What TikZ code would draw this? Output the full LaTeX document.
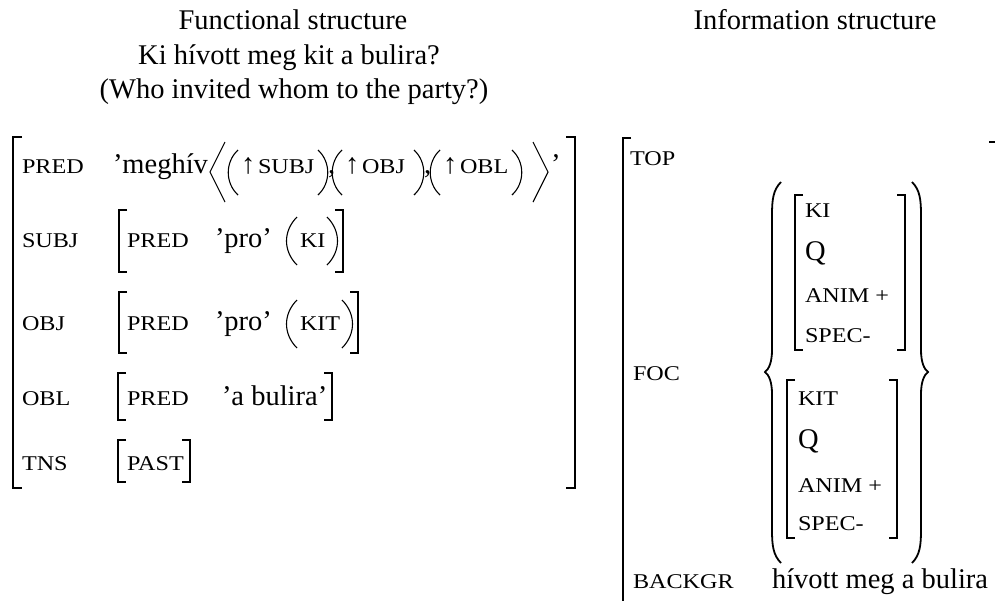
\documentclass[tikz,border=0pt]{standalone}
\usepackage{fontspec}
\setmainfont{Liberation Serif}
\newfontfamily\scfont[FakeStretch=1.15]{Liberation Serif}
\newcommand\rmfs{\fontsize{28.5}{34}\selectfont}
\newcommand\scfs{\scfont\fontsize{21}{24}\selectfont}
\tikzset{
  txt/.style={anchor=base west, inner sep=0pt, outer sep=0pt, font=\rmfs},
  sc/.style={anchor=base west, inner sep=0pt, outer sep=0pt, font=\scfs},
  ttl/.style={anchor=base, inner sep=0pt, outer sep=0pt, font=\rmfs},
  brk/.style={line width=1.6pt},
  dlm/.style={line width=1.1pt},
  brace/.style={line width=1.8pt},
}
\begin{document}
\begin{tikzpicture}[x=1pt,y=-1pt]
\useasboundingbox (0,0) rectangle (995,600);
% titles
\node[ttl] (t1) at (293,29) {Functional structure};
\node[ttl] (t2) at (815,29) {Information structure};
\node[ttl] (t3) at (289,64) {Ki hívott meg kit a bulira?};
\node[ttl] (t4) at (294,98) {(Who invited whom to the party?)};
% big f-structure bracket
\draw[brk] (22,137) -- (13,137) -- (13,488) -- (22,488);
\draw[brk] (566,137) -- (575,137) -- (575,488) -- (566,488);
% PRED row
\node[sc] (l1) at (22,173) {PRED};
\node[txt] (v1) at (113,173) {’meghív};
\draw[dlm] (225,142) -- (210,172) -- (225,202);
\draw[dlm] (238,150) .. controls (225,162) and (225,183) .. (238,195);
\node[txt] (u1) at (241,173) {↑};
\node[sc] (a1) at (258,173) {SUBJ};
\draw[dlm] (318,150) .. controls (331,162) and (331,183) .. (318,195);
\node[txt] (c1) at (328,173) {,};
\draw[dlm] (342,150) .. controls (329,162) and (329,183) .. (342,195);
\node[txt] (u2) at (345,173) {↑};
\node[sc] (a2) at (362,173) {OBJ};
\draw[dlm] (414,150) .. controls (427,162) and (427,183) .. (414,195);
\node[txt] (c2) at (424,173) {,};
\draw[dlm] (440,150) .. controls (427,162) and (427,183) .. (440,195);
\node[txt] (u3) at (443,173) {↑};
\node[sc] (a3) at (460,173) {OBL};
\draw[dlm] (512,150) .. controls (525,162) and (525,183) .. (512,195);
\draw[dlm] (533,142) -- (548,172) -- (533,202);
\node[txt] (q1) at (551,173) {’};
% SUBJ row
\node[sc] (l2) at (22,247) {SUBJ};
\draw[brk] (127,210) -- (119,210) -- (119,272) -- (127,272);
\node[sc] (p2) at (127,247) {PRED};
\node[txt] (v2) at (215,247) {’pro’};
\draw[dlm] (297,217) .. controls (283,231) and (283,251) .. (297,265);
\node[sc] (k2) at (300,247) {KI};
\draw[dlm] (327,217) .. controls (341,231) and (341,251) .. (327,265);
\draw[brk] (335,210) -- (343,210) -- (343,272) -- (335,272);
% OBJ row
\node[sc] (l3) at (22,330) {OBJ};
\draw[brk] (127,292) -- (119,292) -- (119,353) -- (127,353);
\node[sc] (p3) at (127,330) {PRED};
\node[txt] (v3) at (215,330) {’pro’};
\draw[dlm] (297,300) .. controls (283,314) and (283,334) .. (297,348);
\node[sc] (k3) at (300,330) {KIT};
\draw[dlm] (342,300) .. controls (356,314) and (356,334) .. (342,348);
\draw[brk] (350,292) -- (358,292) -- (358,353) -- (350,353);
% OBL row
\node[sc] (l4) at (22,405) {OBL};
\draw[brk] (126,373) -- (118,373) -- (118,420) -- (126,420);
\node[sc] (p4) at (127,405) {PRED};
\node[txt] (v4) at (222,405) {’a bulira’};
\draw[brk] (324,373) -- (332,373) -- (332,420) -- (324,420);
% TNS row
\node[sc] (l5) at (22,470) {TNS};
\draw[brk] (126,440) -- (118,440) -- (118,482) -- (126,482);
\node[sc] (p5) at (127,470) {PAST};
\draw[brk] (182,440) -- (190,440) -- (190,482) -- (182,482);
% information structure
\draw[brk] (631,138) -- (623,138) -- (623,605);
\draw[brk] (989,142) -- (998,142) -- (998,605);
\node[sc] (top) at (630,165) {TOP};
\node[sc] (foc) at (633,380) {FOC};
\node[sc] (bg) at (633,588) {BACKGR};
\node[txt] (bgv) at (772,588) {hívott meg a bulira};
% braces
\draw[brace] (781,182) .. controls (773,190) and (772,200) .. (772,215) -- (772,350)
  .. controls (772,362) and (769,369) .. (765,372) .. controls (769,375) and (772,382) .. (772,394)
  -- (772,530) .. controls (772,545) and (773,555) .. (781,563);
\draw[brace] (912,182) .. controls (920,190) and (921,200) .. (921,215) -- (921,350)
  .. controls (921,362) and (924,369) .. (928,372) .. controls (924,375) and (921,382) .. (921,394)
  -- (921,530) .. controls (921,545) and (920,555) .. (912,563);
% first inner matrix
\draw[brk] (803,195) -- (795,195) -- (795,350) -- (803,350);
\draw[brk] (897,195) -- (905,195) -- (905,350) -- (897,350);
\node[sc] (f1a) at (805,217) {KI};
\node[txt] (f1b) at (805,260) {Q};
\node[sc] (f1c) at (805,302) {ANIM +};
\node[sc] (f1d) at (805,342) {SPEC-};
% second inner matrix
\draw[brk] (795,380) -- (787,380) -- (787,538) -- (795,538);
\draw[brk] (889,380) -- (897,380) -- (897,538) -- (889,538);
\node[sc] (f2a) at (798,405) {KIT};
\node[txt] (f2b) at (798,448) {Q};
\node[sc] (f2c) at (798,492) {ANIM +};
\node[sc] (f2d) at (798,530) {SPEC-};
\end{tikzpicture}
\end{document}
